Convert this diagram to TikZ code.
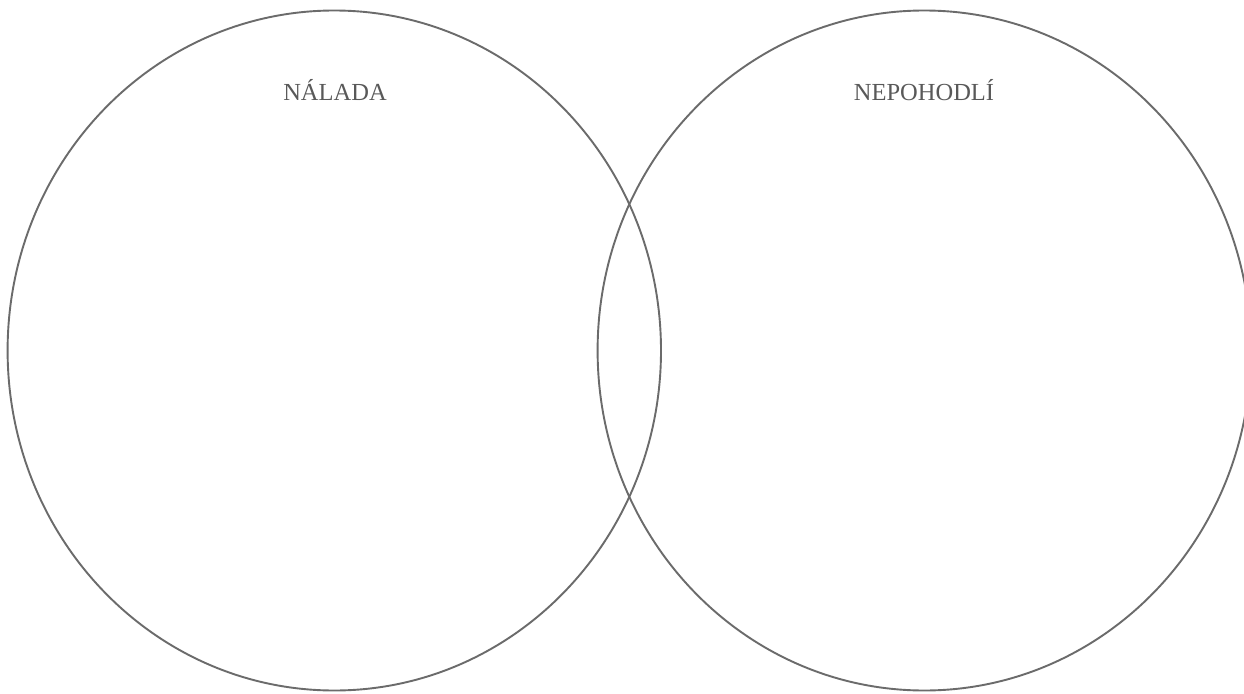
\documentclass[tikz,border=0pt]{standalone}
\usepackage{fontspec}
\setmainfont{Liberation Serif}
\definecolor{ringgray}{HTML}{6B6B6B}
\definecolor{labelgray}{HTML}{595959}
\begin{document}
\begin{tikzpicture}[x=1pt,y=-1pt,
  ring/.style={draw=ringgray,line width=1.9pt},
  setlabel/.style={text=labelgray,font=\fontsize{24.5}{28}\selectfont,anchor=base,inner sep=0pt}]
\useasboundingbox (0,0) rectangle (1244,693);
\clip (0,0) rectangle (1244,693);
\fill[white] (0,0) rectangle (1244,693);
\draw[ring] (334.3,350.5) ellipse [x radius=326.7, y radius=340];
\draw[ring] (924.3,350.5) ellipse [x radius=326.7, y radius=340];
\node[setlabel] (nalada) at (335,100) {NÁLADA};
\node[setlabel] (nepohodli) at (924,100) {NEPOHODLÍ};
\end{tikzpicture}
\end{document}
